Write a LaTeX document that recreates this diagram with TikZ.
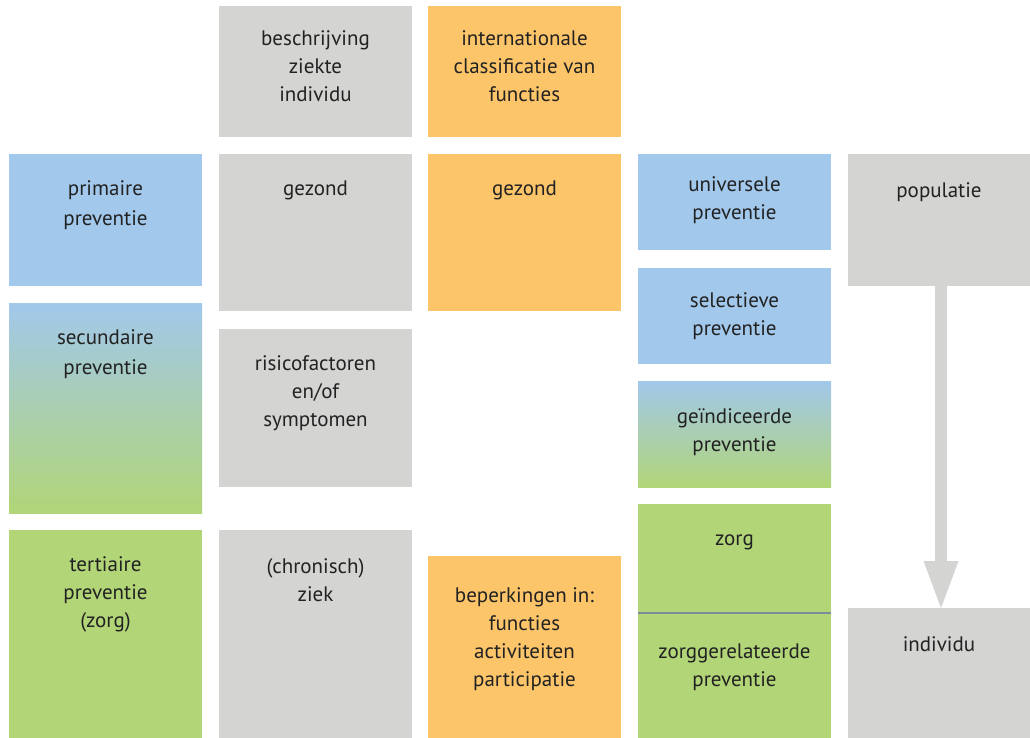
\documentclass[tikz,border=0pt]{standalone}
\usepackage{fontspec}
\setmainfont{PT Sans}
\definecolor{cblue}{HTML}{A2C8EB}
\definecolor{cgray}{HTML}{D4D4D3}
\definecolor{corange}{HTML}{FDC56A}
\definecolor{cgreen}{HTML}{B1D577}
\definecolor{ctext}{HTML}{222222}
\definecolor{cline}{HTML}{7D8B9B}
\tikzset{
  box/.style={rectangle, inner sep=0pt, outer sep=0pt, minimum width=193pt, anchor=north west, draw=none},
  graybox/.style={box, fill=cgray},
  orangebox/.style={box, fill=corange},
  bluebox/.style={box, fill=cblue},
  greenbox/.style={box, fill=cgreen},
  gradbox/.style={box, top color=cblue, bottom color=cgreen},
  lbl/.style={anchor=north, inner sep=0pt, align=center, text=ctext, font=\fontsize{21}{28}\selectfont},
  lblwide/.style={lbl, font=\fontsize{21}{30}\selectfont},
}
\begin{document}
\begin{tikzpicture}[x=1pt, y=-1pt]
\useasboundingbox[fill=white] (0,0) rectangle (1030,738);
% boxes
\node[graybox, minimum height=131pt] (desc) at (219,6) {};
\node[orangebox, minimum height=131pt] (icf) at (428,6) {};
\node[bluebox, minimum height=132pt] (prim) at (9,154) {};
\node[graybox, minimum height=157pt] (gez1) at (219,154) {};
\node[orangebox, minimum height=157pt] (gez2) at (428,154) {};
\node[bluebox, minimum height=96pt] (univ) at (638,154) {};
\node[graybox, minimum width=182pt, minimum height=132pt] (popu) at (848,154) {};
\node[bluebox, minimum height=96pt] (sel) at (638,268) {};
\node[gradbox, minimum height=210pt] (sec) at (9,303) {};
\node[graybox, minimum height=158pt] (risk) at (219,329) {};
\node[gradbox, minimum height=106pt] (ind) at (638,381) {};
\node[greenbox, minimum height=234pt] (zorg) at (638,504) {};
\node[greenbox, minimum height=208pt] (tert) at (9,530) {};
\node[graybox, minimum height=208pt] (chron) at (219,530) {};
\node[orangebox, minimum height=182pt] (bep) at (428,556) {};
\node[graybox, minimum width=182pt, minimum height=130pt] (indiv) at (848,608) {};
% divider in zorg box
\path (zorg.north west) ++(0,109) coordinate (zdl);
\draw[cline, line width=1.2pt] (zdl) -- (zdl -| zorg.east);
% arrow from populatie to individu
\coordinate (aTop) at ([xshift=2pt]popu.south);
\coordinate (aTip) at ([xshift=2pt]indiv.north);
\fill[cgray] ([xshift=-6pt]aTop) rectangle ([xshift=6pt, yshift=47pt]aTip);
\fill[cgray] ([xshift=-17.5pt, yshift=47pt]aTip) -- ([xshift=17.5pt, yshift=47pt]aTip) -- (aTip) -- cycle;
% labels
\node[lbl] (descT) at ([yshift=-19.6pt]desc.north) {\strut beschrijving\\ziekte\\individu};
\node[lbl] (icfT) at ([yshift=-19.6pt]icf.north) {\strut internationale\\classificatie van\\functies};
\node[lblwide] (primT) at ([yshift=-20.3pt]prim.north) {\strut primaire\\preventie};
\node[lbl] (gez1T) at ([yshift=-21.4pt]gez1.north) {\strut gezond};
\node[lbl] (gez2T) at ([yshift=-21.4pt]gez2.north) {\strut gezond};
\node[lbl] (univT) at ([yshift=-17.4pt]univ.north) {\strut universele\\preventie};
\node[lbl] (popuT) at ([yshift=-23.4pt]popu.north) {\strut populatie};
\node[lbl] (selT) at ([yshift=-19.4pt]sel.north) {\strut selectieve\\preventie};
\node[lblwide] (secT) at ([yshift=-20.5pt]sec.north) {\strut secundaire\\preventie};
\node[lbl] (riskT) at ([yshift=-21.9pt]risk.north) {\strut risicofactoren\\en/of\\symptomen};
\node[lbl] (indT) at ([yshift=-22.9pt]ind.north) {\strut ge\"indiceerde\\preventie};
\node[lbl] (zorgT) at ([yshift=-21.4pt]zorg.north) {\strut zorg};
\node[lbl] (zrelT) at ([yshift=-25.4pt]zdl -| zorg.north) {\strut zorggerelateerde\\preventie};
\node[lbl] (tertT) at ([yshift=-21.4pt]tert.north) {\strut tertiaire\\preventie\\(zorg)};
\node[lbl] (chronT) at ([yshift=-23.4pt]chron.north) {\strut (chronisch)\\ziek};
\node[lbl] (bepT) at ([yshift=-26.4pt]bep.north) {\strut beperkingen in:\\functies\\activiteiten\\participatie};
\node[lbl] (indivT) at ([yshift=-23.4pt]indiv.north) {\strut individu};
\end{tikzpicture}
\end{document}
